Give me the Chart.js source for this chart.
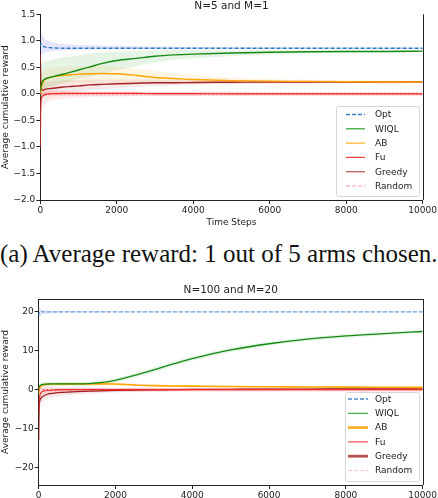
<!DOCTYPE html>
<html>
<head>
<meta charset="utf-8">
<script src="https://cdn.jsdelivr.net/npm/chart.js@4.4.1/dist/chart.umd.min.js"></script>
<style>
  body { margin: 0; background: #fff; width: 438px; height: 498px; overflow: hidden; position: relative; }
  canvas { position: absolute; left: 0; }
  #topChart { top: 0; }
  #bottomChart { top: 280px; }
  .caption { position: absolute; left: 0; top: 240px; width: 438px; font-family: "Liberation Serif", serif; font-size: 25px; line-height: 28px; color: #111; white-space: nowrap; }
</style>
</head>
<body>
<canvas id="topChart" width="438" height="228"></canvas>
<div class="caption">(a) Average reward: 1 out of 5 arms chosen.</div>
<canvas id="bottomChart" width="438" height="218"></canvas>
<script>
// Time steps shared by both panels
const steps = [0, 10, 30, 60, 100, 150, 250, 400, 600, 800, 1000, 1300, 1600, 2000, 2500, 3000, 3500, 4000, 5000, 6000, 7000, 8000, 9000, 10000];
const xTicks = [0, 2000, 4000, 6000, 8000, 10000];

// Panel (top): N=5 and M=1
const yTicksA = [-2.0, -1.5, -1.0, -0.5, 0.0, 0.5, 1.0, 1.5];
const optA    = [0.90, 0.95, 0.93, 0.91, 0.89, 0.88, 0.87, 0.865, 0.86, 0.86, 0.86, 0.86, 0.86, 0.86, 0.86, 0.86, 0.86, 0.86, 0.86, 0.86, 0.86, 0.86, 0.86, 0.86];
const optAHi  = [1.00, 1.17, 1.14, 1.10, 1.06, 1.02, 0.99, 0.96, 0.94, 0.93, 0.925, 0.92, 0.91, 0.905, 0.90, 0.895, 0.89, 0.885, 0.88, 0.875, 0.875, 0.87, 0.87, 0.87];
const optALo  = [0.78, 0.72, 0.73, 0.75, 0.77, 0.79, 0.80, 0.81, 0.82, 0.825, 0.83, 0.835, 0.84, 0.84, 0.845, 0.845, 0.85, 0.85, 0.85, 0.85, 0.85, 0.85, 0.85, 0.85];
const wiqlA   = [0.05, 0.12, 0.18, 0.24, 0.27, 0.29, 0.31, 0.34, 0.37, 0.41, 0.45, 0.51, 0.57, 0.63, 0.67, 0.71, 0.735, 0.75, 0.77, 0.785, 0.795, 0.80, 0.80, 0.805];
const wiqlAHi = [0.40, 0.50, 0.56, 0.58, 0.60, 0.62, 0.64, 0.66, 0.69, 0.71, 0.73, 0.76, 0.78, 0.80, 0.81, 0.82, 0.825, 0.825, 0.82, 0.82, 0.82, 0.82, 0.815, 0.815];
const wiqlALo = [-0.30, -0.20, -0.10, 0.02, 0.08, 0.11, 0.14, 0.17, 0.20, 0.24, 0.28, 0.33, 0.38, 0.45, 0.52, 0.59, 0.64, 0.67, 0.71, 0.74, 0.76, 0.775, 0.78, 0.785];
const abA     = [0.00, 0.10, 0.13, 0.20, 0.25, 0.28, 0.31, 0.33, 0.35, 0.36, 0.37, 0.38, 0.385, 0.38, 0.35, 0.31, 0.29, 0.27, 0.25, 0.24, 0.235, 0.23, 0.225, 0.225];
const abAHi   = [0.30, 0.36, 0.38, 0.42, 0.45, 0.47, 0.49, 0.50, 0.51, 0.52, 0.52, 0.53, 0.53, 0.52, 0.48, 0.43, 0.39, 0.36, 0.31, 0.28, 0.265, 0.255, 0.25, 0.245];
const abALo   = [-0.30, -0.15, -0.10, 0.00, 0.05, 0.08, 0.12, 0.15, 0.18, 0.19, 0.20, 0.21, 0.22, 0.22, 0.21, 0.20, 0.19, 0.19, 0.19, 0.195, 0.20, 0.20, 0.20, 0.205];
const fuA     = [-1.00, -0.30, -0.08, -0.04, -0.02, -0.01, 0.00, 0.005, 0.01, 0.01, 0.01, 0.01, 0.01, 0.01, 0.01, 0.005, 0.005, 0.005, 0.00, 0.00, 0.00, 0.00, 0.00, 0.00];
const fuAHi   = [0.20, 0.20, 0.18, 0.15, 0.12, 0.10, 0.08, 0.07, 0.06, 0.06, 0.05, 0.05, 0.05, 0.05, 0.045, 0.04, 0.04, 0.04, 0.035, 0.03, 0.03, 0.03, 0.03, 0.03];
const fuALo   = [-1.10, -0.50, -0.35, -0.28, -0.22, -0.18, -0.14, -0.11, -0.09, -0.08, -0.07, -0.06, -0.055, -0.05, -0.045, -0.04, -0.04, -0.04, -0.035, -0.03, -0.03, -0.03, -0.03, -0.03];
const greedyA   = [0.75, 0.25, 0.08, 0.07, 0.08, 0.09, 0.10, 0.11, 0.13, 0.14, 0.15, 0.17, 0.18, 0.19, 0.20, 0.21, 0.21, 0.215, 0.22, 0.225, 0.225, 0.225, 0.225, 0.225];
const greedyAHi = [1.00, 0.50, 0.25, 0.22, 0.22, 0.22, 0.23, 0.24, 0.25, 0.26, 0.26, 0.27, 0.27, 0.27, 0.27, 0.27, 0.26, 0.26, 0.255, 0.25, 0.25, 0.245, 0.245, 0.245];
const greedyALo = [0.30, -0.10, -0.10, -0.08, -0.05, -0.03, -0.01, 0.00, 0.02, 0.04, 0.05, 0.07, 0.09, 0.11, 0.13, 0.15, 0.16, 0.17, 0.185, 0.195, 0.20, 0.205, 0.205, 0.205];
const randA   = [0, 0, 0, 0, 0, 0, 0, 0, 0, 0, 0, 0, 0, 0, 0, 0, 0, 0, 0, 0, 0, 0, 0, 0];
const randAHi = [0.06, 0.06, 0.06, 0.05, 0.05, 0.05, 0.05, 0.04, 0.04, 0.04, 0.04, 0.04, 0.04, 0.04, 0.04, 0.04, 0.04, 0.04, 0.04, 0.04, 0.04, 0.04, 0.04, 0.04];
const randALo = [-0.06, -0.06, -0.06, -0.05, -0.05, -0.05, -0.05, -0.04, -0.04, -0.04, -0.04, -0.04, -0.04, -0.04, -0.04, -0.04, -0.04, -0.04, -0.04, -0.04, -0.04, -0.04, -0.04, -0.04];

// Panel (bottom): N=100 and M=20
const yTicksB = [-20, -10, 0, 10, 20];
const optB    = [19.0, 19.6, 20.2, 20.1, 20.0, 20.0, 20.0, 20.0, 20.0, 20.0, 20.0, 20.0, 20.0, 20.0, 20.0, 20.0, 20.0, 20.0, 20.0, 20.0, 20.0, 20.0, 20.0, 20.0];
const optBHi  = [21.3, 21.2, 20.9, 20.7, 20.5, 20.4, 20.3, 20.25, 20.2, 20.2, 20.15, 20.15, 20.15, 20.1, 20.1, 20.1, 20.1, 20.1, 20.1, 20.1, 20.1, 20.1, 20.1, 20.1];
const optBLo  = [17.9, 18.2, 18.8, 19.2, 19.4, 19.5, 19.6, 19.7, 19.75, 19.8, 19.85, 19.85, 19.85, 19.9, 19.9, 19.9, 19.9, 19.9, 19.9, 19.9, 19.9, 19.9, 19.9, 19.9];
const wiqlB   = [0.5, 0.8, 1.0, 1.2, 1.3, 1.4, 1.45, 1.5, 1.5, 1.5, 1.5, 1.55, 1.8, 2.4, 3.7, 5.1, 6.6, 8.0, 10.2, 11.8, 13.0, 13.8, 14.4, 14.95];
const wiqlBHi = [1.5, 1.6, 1.7, 1.8, 1.85, 1.9, 1.95, 2.0, 2.0, 2.0, 2.0, 2.1, 2.4, 3.0, 4.3, 5.7, 7.2, 8.6, 10.8, 12.3, 13.5, 14.3, 14.8, 15.3];
const wiqlBLo = [-0.5, 0.0, 0.3, 0.6, 0.75, 0.9, 0.95, 1.0, 1.0, 1.0, 1.0, 1.0, 1.2, 1.8, 3.1, 4.5, 6.0, 7.4, 9.6, 11.3, 12.5, 13.3, 14.0, 14.6];
const abB     = [-1.0, 0.0, 0.6, 1.0, 1.2, 1.3, 1.4, 1.45, 1.5, 1.5, 1.5, 1.5, 1.5, 1.45, 1.2, 1.05, 0.95, 0.9, 0.8, 0.75, 0.7, 0.65, 0.62, 0.6];
const abBHi   = [0.5, 1.0, 1.3, 1.6, 1.7, 1.75, 1.8, 1.85, 1.85, 1.85, 1.85, 1.85, 1.85, 1.8, 1.5, 1.35, 1.2, 1.15, 1.0, 0.95, 0.9, 0.85, 0.8, 0.78];
const abBLo   = [-2.5, -1.0, -0.1, 0.4, 0.7, 0.85, 1.0, 1.05, 1.15, 1.15, 1.15, 1.15, 1.15, 1.1, 0.9, 0.75, 0.7, 0.65, 0.6, 0.55, 0.5, 0.45, 0.44, 0.42];
const fuB     = [-6.0, -3.0, -1.5, -0.8, -0.5, -0.3, -0.2, -0.1, 0.0, 0.0, 0.0, 0.0, 0.0, 0.0, 0.0, 0.0, 0.0, 0.0, 0.0, 0.0, 0.0, 0.0, 0.0, 0.0];
const fuBHi   = [-2.0, -0.5, 0.3, 0.6, 0.7, 0.7, 0.65, 0.6, 0.6, 0.55, 0.5, 0.5, 0.5, 0.45, 0.45, 0.4, 0.4, 0.4, 0.4, 0.4, 0.4, 0.4, 0.4, 0.4];
const fuBLo   = [-10.0, -5.5, -3.3, -2.2, -1.7, -1.3, -1.05, -0.8, -0.6, -0.55, -0.5, -0.5, -0.5, -0.45, -0.45, -0.4, -0.4, -0.4, -0.4, -0.4, -0.4, -0.4, -0.4, -0.4];
const greedyB   = [-13.0, -5.0, -2.8, -2.2, -1.8, -1.5, -1.1, -0.9, -0.7, -0.6, -0.5, -0.4, -0.3, -0.2, -0.1, -0.05, 0.0, 0.05, 0.1, 0.15, 0.15, 0.2, 0.2, 0.2];
const greedyBHi = [-8.0, -2.5, -0.8, -0.5, -0.3, -0.2, 0.0, 0.1, 0.2, 0.2, 0.25, 0.3, 0.3, 0.35, 0.4, 0.4, 0.4, 0.45, 0.45, 0.45, 0.45, 0.5, 0.5, 0.5];
const greedyBLo = [-18.0, -7.5, -4.8, -3.9, -3.3, -2.8, -2.2, -1.9, -1.6, -1.4, -1.25, -1.1, -0.9, -0.75, -0.6, -0.5, -0.4, -0.35, -0.25, -0.15, -0.15, -0.1, -0.1, -0.1];
const randB   = [0, 0, 0, 0, 0, 0, 0, 0, 0, 0, 0, 0, 0, 0, 0, 0, 0, 0, 0, 0, 0, 0, 0, 0];
const randBHi = [0.8, 0.8, 0.7, 0.7, 0.6, 0.6, 0.6, 0.5, 0.5, 0.5, 0.5, 0.5, 0.5, 0.5, 0.5, 0.5, 0.5, 0.5, 0.5, 0.5, 0.5, 0.5, 0.5, 0.5];
const randBLo = [-0.8, -0.8, -0.7, -0.7, -0.6, -0.6, -0.6, -0.5, -0.5, -0.5, -0.5, -0.5, -0.5, -0.5, -0.5, -0.5, -0.5, -0.5, -0.5, -0.5, -0.5, -0.5, -0.5, -0.5];

const legendNames = ['Opt', 'WIQL', 'AB', 'Fu', 'Greedy', 'Random'];

function pts(arr){
  return steps.map((x, i) => ({x: x, y: arr[i]}));
}

function line(arr, color, width, dash){
  return {data: pts(arr), borderColor: color, borderWidth: width, borderDash: dash || [],
          pointRadius: 0, fill: false, order: 1, cubicInterpolationMode: 'monotone'};
}

// two datasets: lower edge, then upper edge filled down to it
function band(lo, hi, color){
  return [
    {data: pts(lo), borderWidth: 0, pointRadius: 0, fill: false, order: 2, cubicInterpolationMode: 'monotone'},
    {data: pts(hi), borderWidth: 0, pointRadius: 0, fill: '-1', backgroundColor: color, order: 2, cubicInterpolationMode: 'monotone'}
  ];
}

const minus = s => s.replace('-', '\u2212');

// spines, title and the boxed legend inside the plot
const decor = {
  id: 'decor',
  afterDraw(chart, args, o){
    const c = chart.ctx, a = chart.chartArea;
    c.save();
    c.strokeStyle = '#222';
    c.lineWidth = 1;
    c.beginPath();
    c.moveTo(Math.round(a.right) + 0.5, a.top);
    c.lineTo(Math.round(a.right) + 0.5, a.bottom);
    if (o.topSpine){
      c.moveTo(a.left, Math.round(a.top) + 0.5);
      c.lineTo(a.right + 1, Math.round(a.top) + 0.5);
    }
    c.stroke();

    c.fillStyle = '#222';
    c.font = '10.5px "DejaVu Sans"';
    c.textAlign = 'center';
    c.textBaseline = 'alphabetic';
    c.fillText(o.title, (a.left + a.right) / 2, o.titleY);

    const L = o.legend;
    c.beginPath();
    c.roundRect(L.x0 + 0.5, L.y0 + 0.5, L.x1 - L.x0, L.y1 - L.y0, 2);
    c.fillStyle = 'rgba(255,255,255,0.85)';
    c.fill();
    c.strokeStyle = '#d6d6d6';
    c.stroke();
    legendNames.forEach((name, i) => {
      const y = L.y0 + L.first + i * L.gap;
      c.beginPath();
      c.strokeStyle = o.colors[i];
      c.lineWidth = o.widths[i];
      c.setLineDash(o.dashes[i]);
      c.moveTo(L.lineX0, y);
      c.lineTo(L.lineX1, y);
      c.stroke();
      c.setLineDash([]);
      c.fillStyle = '#222';
      c.font = '9px "DejaVu Sans"';
      c.textAlign = 'left';
      c.textBaseline = 'middle';
      c.fillText(name, L.textX, y + 0.5);
    });
    c.restore();
  }
};

function axisX(height, withTitle){
  return {
    type: 'linear', min: 0, max: 10000,
    afterBuildTicks: s => { s.ticks = xTicks.map(v => ({value: v})); },
    afterFit: s => { s.height = height; },
    border: {display: true, color: '#222', width: 1},
    grid: {display: true, drawOnChartArea: false, drawTicks: true, tickLength: 4, color: '#222'},
    ticks: {color: '#222', font: {family: 'DejaVu Sans', size: 9}, padding: 1, maxRotation: 0, autoSkip: false, callback: v => String(v)},
    title: {display: withTitle, text: 'Time Steps', color: '#222', font: {family: 'DejaVu Sans', size: 9}, padding: 0}
  };
}

function axisY(min, max, ticks, width, fmt){
  return {
    min: min, max: max,
    afterBuildTicks: s => { s.ticks = ticks.map(v => ({value: v})); },
    afterFit: s => { s.width = width; },
    border: {display: true, color: '#222', width: 1},
    grid: {display: true, drawOnChartArea: false, drawTicks: true, tickLength: 4, color: '#222'},
    ticks: {color: '#222', font: {family: 'DejaVu Sans', size: 9}, padding: 1, autoSkip: false, callback: fmt},
    title: {display: true, text: 'Average cumulative reward', color: '#222', font: {family: 'DejaVu Sans', size: 9}, padding: 0}
  };
}

new Chart(document.getElementById('topChart'), {
  type: 'line',
  data: {
    datasets: [
      line(randA, '#ee3333', 1, [1.5, 2.5]),
      line(optA, '#2b79c2', 1.3, [4, 2]),
      line(wiqlA, '#138a13', 1.4),
      line(abA, '#ffa500', 1.4),
      line(greedyA, '#a52222', 1.4),
      line(fuA, '#ee2a2a', 1.2),
      ...band(optALo, optAHi, 'rgba(110,110,255,0.18)'),
      ...band(wiqlALo, wiqlAHi, 'rgba(60,170,60,0.13)'),
      ...band(abALo, abAHi, 'rgba(255,190,90,0.16)'),
      ...band(greedyALo, greedyAHi, 'rgba(190,70,70,0.12)'),
      ...band(fuALo, fuAHi, 'rgba(255,90,90,0.12)'),
      ...band(randALo, randAHi, 'rgba(255,150,160,0.22)')
    ]
  },
  options: {
    responsive: false, animation: false,
    layout: {padding: {top: 14.3, right: 14, left: 0, bottom: 0}},
    scales: {
      x: axisX(28, true),
      y: axisY(-2, 1.5, yTicksA, 40.3, v => minus(v.toFixed(1)))
    },
    plugins: {
      legend: {display: false}, tooltip: {enabled: false},
      decor: {
        title: 'N=5 and M=1', titleY: 8.5, topSpine: false,
        colors: ['#3a80c4', '#2ca02c', '#ffb020', '#ee3b3b', '#b05050', '#ffc0c8'],
        widths: [1.6, 1.2, 1.2, 1.2, 1.2, 1.6],
        dashes: [[4, 2], [], [], [], [], [4, 2]],
        legend: {x0: 336, y0: 106, x1: 419, y1: 196, first: 8.5, gap: 14.3, lineX0: 346, lineX1: 365, textX: 375}
      }
    }
  },
  plugins: [decor]
});

new Chart(document.getElementById('bottomChart'), {
  type: 'line',
  data: {
    datasets: [
      line(randB, '#ee3333', 1, [1.5, 2.5]),
      line(optB, '#6a9ee0', 1.1, [4, 2]),
      line(wiqlB, '#138a13', 1.3),
      line(abB, '#ffa500', 1.6),
      line(fuB, '#ee2a2a', 1.1),
      line(greedyB, '#a01c1c', 1.3),
      ...band(optBLo, optBHi, 'rgba(110,110,255,0.18)'),
      ...band(wiqlBLo, wiqlBHi, 'rgba(60,170,60,0.13)'),
      ...band(abBLo, abBHi, 'rgba(255,190,90,0.18)'),
      ...band(greedyBLo, greedyBHi, 'rgba(190,70,70,0.12)'),
      ...band(fuBLo, fuBHi, 'rgba(255,90,90,0.12)'),
      ...band(randBLo, randBHi, 'rgba(255,150,160,0.22)')
    ]
  },
  options: {
    responsive: false, animation: false,
    layout: {padding: {top: 19, right: 14, left: 0, bottom: 0}},
    scales: {
      x: axisX(13, false),
      y: axisY(-24.5, 23.3, yTicksB, 38.7, v => minus(String(v)))
    },
    plugins: {
      legend: {display: false}, tooltip: {enabled: false},
      decor: {
        title: 'N=100 and M=20', titleY: 13.3, topSpine: true,
        colors: ['#4a8ad0', '#2ca02c', '#ffb030', '#ee3b3b', '#b85050', '#ffc8d0'],
        widths: [1.5, 1.1, 2.8, 1.1, 2.8, 1.1],
        dashes: [[4, 2], [], [], [], [], [4, 2]],
        legend: {x0: 345, y0: 112, x1: 419, y1: 201, first: 7, gap: 14.3, lineX0: 348, lineX1: 368, textX: 375}
      }
    }
  },
  plugins: [decor]
});
</script>
</body>
</html>
